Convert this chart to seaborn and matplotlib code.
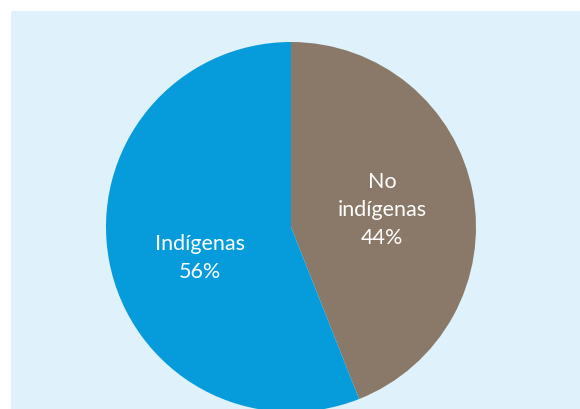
import matplotlib
matplotlib.use('Agg')
import matplotlib.pyplot as plt
import seaborn as sns
from matplotlib.patches import Rectangle

# datos
categorias = ['No\nindígenas', 'Indígenas']
valores = [44, 56]
colores = ['#8a7968', '#069cdb']

sns.set_theme(style="white")
plt.rcParams['font.family'] = ['Lato', 'DejaVu Sans']

fig = plt.figure(figsize=(5.8, 4.09), dpi=100)
fig.patches.append(Rectangle((11 / 580, 0), 1, 1 - 11 / 409, transform=fig.transFigure,
                             facecolor='#dff1fa', edgecolor='none', zorder=-10))

ax = fig.add_axes([0, 0, 1, 1])
ax.set_zorder(1)

etiquetas = [f'{c}\n{v}%' for c, v in zip(categorias, valores)]
wedges, textos = ax.pie(valores, labels=etiquetas, colors=colores, startangle=90,
                        counterclock=False, center=(291, 182), radius=185,
                        labeldistance=0.5, frame=True,
                        wedgeprops={'linewidth': 0},
                        textprops={'color': 'white', 'fontsize': 15.5})
ax.set_xlim(0, 580)
ax.set_ylim(0, 409)
ax.set_aspect('equal')
ax.axis('off')
for t in textos:
    t.set_horizontalalignment('center')
    t.set_verticalalignment('center')
    t.set_multialignment('center')
    t.set_linespacing(1.5)
# bajar un poco la etiqueta de indígenas
textos[1].set_y(textos[1].get_position()[1] - 14)

fig.savefig('out.png', dpi=100)
